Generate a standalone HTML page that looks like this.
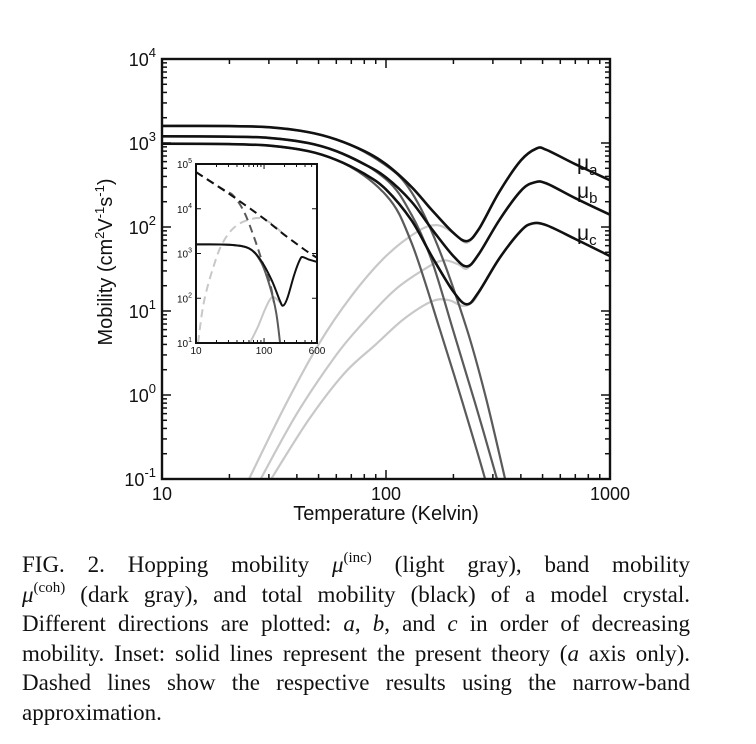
<!DOCTYPE html>
<html><head><meta charset="utf-8"><style>
html,body{margin:0;padding:0;background:#fff;}
body{width:756px;height:744px;overflow:hidden;position:relative;}
svg{position:absolute;left:0;top:0;}
.cap{position:absolute;left:22px;width:668px;font-family:"Liberation Serif",serif;font-size:23px;top:550px;color:#111;}
.cap div{height:29.5px;line-height:29.5px;text-align:justify;text-align-last:justify;white-space:nowrap;overflow:visible;}
.cap div.last{text-align-last:left;}
.cap sup{font-size:15px;line-height:0;vertical-align:baseline;position:relative;top:-10px;}
</style></head><body>
<svg id="chart" width="756" height="744" viewBox="0 0 756 744" font-family="Liberation Sans, sans-serif"></svg>
<div class="cap">
<div style="white-space:normal">FIG. 2. Hopping mobility <i>μ</i><sup>(inc)</sup> (light gray), band mobility</div>
<div style="white-space:normal"><i>μ</i><sup>(coh)</sup> (dark gray), and total mobility (black) of a model crystal.</div>
<div style="white-space:normal">Different directions are plotted: <i>a</i>, <i>b</i>, and <i>c</i> in order of decreasing</div>
<div style="white-space:normal">mobility. Inset: solid lines represent the present theory (<i>a</i> axis only).</div>
<div style="white-space:normal">Dashed lines show the respective results using the narrow-band</div>
<div class="last">approximation.</div>
</div>
<script>
// ---- main chart data: [Temperature (K), mobility] ----
const totalA=[[10,1600],[20,1590],[30,1540],[45,1350],[60,1100],[80,800],[100,560],[130,300],[160,160],[200,85],[230,68],[260,95],[320,260],[400,620],[470,860],[520,830],[700,560],[1000,360]];
const totalB=[[10,1200],[20,1190],[30,1150],[45,1000],[60,800],[80,560],[100,390],[130,200],[160,95],[200,45],[230,34],[260,48],[320,120],[400,270],[460,340],[520,330],[700,220],[1000,140]];
const totalC=[[10,980],[20,970],[30,930],[45,800],[60,630],[80,430],[100,280],[130,120],[160,45],[200,17],[230,12],[260,17],[320,42],[400,90],[450,110],[520,105],[700,72],[1000,45]];
const bandA=[[10,1600],[30,1540],[60,1100],[100,540],[130,260],[170,60],[230,6],[280,0.9],[340,0.1],[360,0.05]];
const bandB=[[10,1200],[30,1150],[60,800],[100,370],[130,140],[160,40],[199,6],[250,0.8],[313,0.1],[335,0.05]];
const bandC=[[10,980],[30,930],[60,630],[100,240],[130,65],[174,6],[220,0.8],[277,0.1],[300,0.04]];
const hopA=[[24,0.09],[35,0.7],[50,4],[70,15],[100,45],[140,90],[170,105],[200,85],[230,65],[260,95]];
const hopB=[[27,0.09],[40,0.6],[60,3],[80,7.5],[110,18],[150,32],[180,40],[210,36],[230,32],[260,47]];
const hopC=[[30,0.09],[45,0.5],[65,1.8],[90,4],[120,8],[160,13],[190,13.5],[220,11.5],[245,13],[265,18]];
const xTicks=[10,100,1000];
const yTickExps=[-1,0,1,2,3,4];
// ---- inset data ----
const inTotal=[[10,1600],[30,1570],[60,1300],[90,700],[130,250],[170,90],[190,68],[220,100],[280,350],[340,750],[373,830],[450,740],[600,650]];
const inBand=[[10,1600],[30,1570],[60,1300],[90,650],[120,200],[150,50],[172,10]];
const inHop=[[62,10],[80,22],[100,50],[120,90],[136,107],[160,90],[185,70]];
const inTotalNB=[[10,66000],[30,22000],[100,6000],[200,2600],[400,1200],[600,800]];
const inBandNB=[[10,66000],[25,27000],[35,20000],[50,9000],[70,2500],[100,500],[122,220],[140,80]];
const inHopNB=[[10.7,10],[13,80],[18,500],[25,1800],[40,4300],[79,6200],[120,5000],[200,2600]];

const svg=document.getElementById('chart');
const NS='http://www.w3.org/2000/svg';
function mk(tag,attrs,parent){const e=document.createElementNS(NS,tag);for(const k in attrs)e.setAttribute(k,attrs[k]);(parent||svg).appendChild(e);return e;}
const X0=162,X1=610,Y0=479,Y1=59;
function mx(t){return X0+(Math.log10(t)-1)*(X1-X0)/2;}
function my(v){return Y0-(Math.log10(v)+1)*(Y0-Y1)/5;}
const IX0=196,IX1=317,IY0=343,IY1=164;
function ix(t){return IX0+(Math.log10(t)-1)*(IX1-IX0)/Math.log10(60);}
function iy(v){return IY0-(Math.log10(v)-1)*(IY0-IY1)/4;}
function pathD(data,fx,fy){
  const p=data.map(d=>[fx(d[0]),fy(d[1])]);
  let d='M'+p[0][0].toFixed(1)+','+p[0][1].toFixed(1);
  for(let i=0;i<p.length-1;i++){
    const p0=p[i-1]||p[i],p1=p[i],p2=p[i+1],p3=p[i+2]||p2;
    const c1=[p1[0]+(p2[0]-p0[0])/6,p1[1]+(p2[1]-p0[1])/6];
    const c2=[p2[0]-(p3[0]-p1[0])/6,p2[1]-(p3[1]-p1[1])/6];
    d+='C'+c1[0].toFixed(1)+','+c1[1].toFixed(1)+' '+c2[0].toFixed(1)+','+c2[1].toFixed(1)+' '+p2[0].toFixed(1)+','+p2[1].toFixed(1);
  }
  return d;
}
const defs=mk('defs',{});
const cp=mk('clipPath',{id:'mainclip'},defs);mk('rect',{x:X0,y:Y1,width:X1-X0,height:Y0-Y1},cp);
const cp2=mk('clipPath',{id:'insetclip'},defs);mk('rect',{x:IX0,y:IY1,width:IX1-IX0,height:IY0-IY1},cp2);
const g=mk('g',{'clip-path':'url(#mainclip)'});


const series=[
 [hopA,'#c8c8c8','hopping-a'],[hopB,'#c8c8c8','hopping-b'],[hopC,'#c8c8c8','hopping-c'],
 [bandA,'#5a5a5a','band-a'],[bandB,'#5a5a5a','band-b'],[bandC,'#5a5a5a','band-c'],
 [totalA,'#111','total-a'],[totalB,'#111','total-b'],[totalC,'#111','total-c']];
series.forEach(s=>{
  const p=mk('path',{d:pathD(s[0],mx,my),fill:'none',stroke:s[1],'stroke-width':s[1]=='#111'?2.6:2.2},g);
  
  
});
const frame=mk('rect',{x:X0,y:Y1,width:X1-X0,height:Y0-Y1,fill:'none',stroke:'#111','stroke-width':2.4});


for(let e=1;e<3;e++)for(let m=1;m<10;m++){const x=mx(m*Math.pow(10,e));const L=m==1?9:5;
  mk('line',{x1:x,y1:Y0,x2:x,y2:Y0-L,stroke:'#111','stroke-width':1.5});
  mk('line',{x1:x,y1:Y1,x2:x,y2:Y1+L,stroke:'#111','stroke-width':1.5});}
for(let e=-1;e<4;e++)for(let m=1;m<10;m++){const y=my(m*Math.pow(10,e));const L=m==1?9:5;
  mk('line',{x1:X0,y1:y,x2:X0+L,y2:y,stroke:'#111','stroke-width':1.5});
  mk('line',{x1:X1,y1:y,x2:X1-L,y2:y,stroke:'#111','stroke-width':1.5});}
xTicks.forEach(t=>{const tx=mk('text',{x:mx(t),y:Y0+21,'font-size':18,'text-anchor':'middle',fill:'#111'});tx.textContent=t;
  
  });
yTickExps.forEach(e=>{const tx=mk('text',{x:X0-6,y:my(Math.pow(10,e))+7,'font-size':18,'text-anchor':'end',fill:'#111'});
  tx.innerHTML='10<tspan dy="-9" font-size="13">'+e+'</tspan>';
  
  });
const xl=mk('text',{x:386,y:520,'font-size':20,'text-anchor':'middle',fill:'#111'});xl.textContent='Temperature (Kelvin)';


const yl=mk('text',{x:0,y:0,'font-size':20,'text-anchor':'middle',fill:'#111',transform:'translate(112,262) rotate(-90)'});
yl.innerHTML='Mobility (cm<tspan dy="-8" font-size="13">2</tspan><tspan dy="8">V</tspan><tspan dy="-8" font-size="13">-1</tspan><tspan dy="8">s</tspan><tspan dy="-8" font-size="13">-1</tspan><tspan dy="8">)</tspan>';


[['a',170],['b',198],['c',240]].forEach(l=>{const t=mk('text',{x:577,y:l[1],'font-size':21,fill:'#111'});
  t.innerHTML='μ<tspan dy="5" font-size="15">'+l[0]+'</tspan>';
  
  });
const ib=mk('rect',{x:IX0,y:IY1,width:IX1-IX0,height:IY0-IY1,fill:'#fff',stroke:'none'});


const ig=mk('g',{'clip-path':'url(#insetclip)'});


[[inHopNB,'#c8c8c8',true,'inset-hopping-narrowband'],[inBandNB,'#5a5a5a',true,'inset-band-narrowband'],[inTotalNB,'#111',true,'inset-total-narrowband'],
 [inHop,'#c8c8c8',false,'inset-hopping'],[inBand,'#5a5a5a',false,'inset-band'],[inTotal,'#111',false,'inset-total']].forEach(s=>{
  const a={d:pathD(s[0],ix,iy),fill:'none',stroke:s[1],'stroke-width':2};
  if(s[2])a['stroke-dasharray']='8,5';
  const p=mk('path',a,ig);
  
  });
const iframe=mk('rect',{x:IX0,y:IY1,width:IX1-IX0,height:IY0-IY1,fill:'none',stroke:'#111','stroke-width':2});


for(let e=1;e<3;e++)for(let m=1;m<10;m++){const t=m*Math.pow(10,e);if(t>600)continue;const x=ix(t);const L=m==1?5:3;
  mk('line',{x1:x,y1:IY0,x2:x,y2:IY0-L,stroke:'#111','stroke-width':1});
  mk('line',{x1:x,y1:IY1,x2:x,y2:IY1+L,stroke:'#111','stroke-width':1});}
for(let e=1;e<=5;e++){const y=iy(Math.pow(10,e));
  mk('line',{x1:IX0,y1:y,x2:IX0+5,y2:y,stroke:'#111','stroke-width':1});
  mk('line',{x1:IX1,y1:y,x2:IX1-5,y2:y,stroke:'#111','stroke-width':1});
  const t=mk('text',{x:IX0-4,y:y+4,'font-size':10,'text-anchor':'end',fill:'#111'});
  t.innerHTML='10<tspan dy="-5" font-size="7">'+e+'</tspan>';
  
  }
[10,100,600].forEach(v=>{const t=mk('text',{x:ix(v),y:IY0+11,'font-size':10,'text-anchor':'middle',fill:'#111'});t.textContent=v;
  
  });
</script>
</body></html>
